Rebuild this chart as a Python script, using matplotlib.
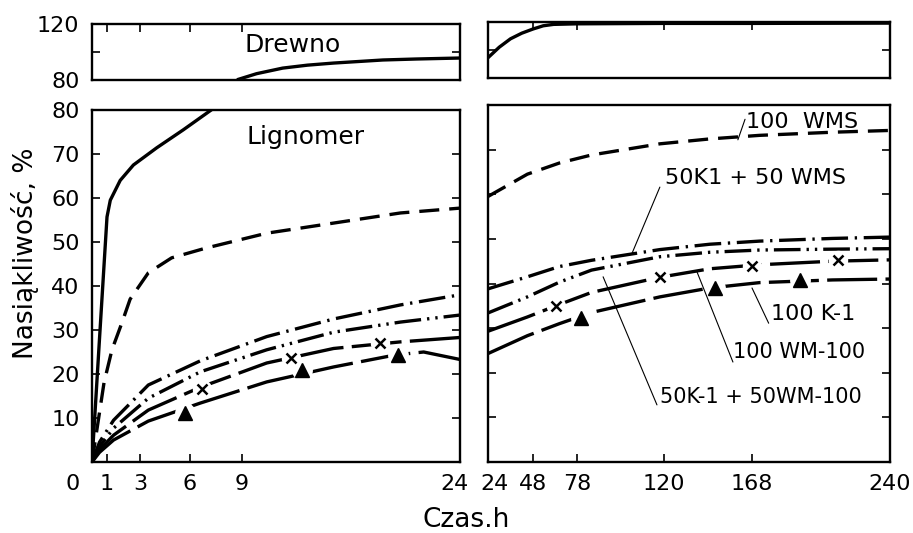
import numpy as np
import matplotlib
matplotlib.use("Agg")
import matplotlib.pyplot as plt
from matplotlib.transforms import ScaledTranslation

# ---- data (hours, water uptake %) ----
# left part: 0-24 h
t_wood_lo = [0, 0.5, 1.0, 1.2, 1.8, 2.6, 4.0, 5.6, 7.4]
wood_lo = [0, 28, 55.7, 59.5, 64, 67.5, 71.4, 75.5, 80.5]
t_wood_hi = [8.8, 10, 11.8, 13.5, 15.3, 18.7, 21, 24]
wood_hi = [80.5, 84.5, 88.5, 90.6, 92.1, 94.3, 95.0, 95.7]

t_wms = [0, 0.4, 0.8, 1.3, 1.9, 2.4, 3.5, 4.9, 6.9, 10.7, 15.3, 19.9, 24]
wms = [0, 9, 18, 25.5, 31.6, 37, 43, 46.4, 48.6, 52, 54.3, 56.6, 57.7]

t_l = [0, 0.5, 1.4, 3.5, 6.6, 10.7, 15.3, 19.9, 24]
k1_wms = [0, 4.5, 9.5, 17.5, 23, 28.5, 32.5, 35.7, 38]
k1_wm = [0, 3.5, 7.7, 14.5, 20.5, 25.5, 29.5, 31.8, 33.4]
wm100 = [0, 2.8, 6.1, 11.8, 17, 22.5, 25.8, 27.3, 28.3]
t_k1 = [0, 0.5, 1.4, 3.5, 6.6, 10.7, 15.3, 19.5, 21.5, 24]
k1 = [0, 2.2, 5, 9.3, 13.4, 18.2, 21.6, 24.3, 25, 23.3]

wm100_mk_t = [6.7, 12.4, 18.5]
wm100_mk = [16.6, 23.6, 27]
k1_mk_t = [5.7, 13.1, 19.7]
k1_mk = [11.1, 20.9, 24.3]

# right part: 24-240 h
t_wood_r = [24, 30, 36, 42, 48, 55, 62, 78, 120, 168, 240]
wood_r = [94.5, 102, 108, 112, 115, 117.3, 118.3, 118.7, 119, 119, 119.2]

t_r = [24, 45, 66, 85, 118, 145, 172, 210, 240]
wms_r = [59.5, 64.5, 67, 68.8, 71.3, 72.4, 73.2, 73.9, 74.3]
k1_wms_r = [38.8, 41.5, 43.8, 45.2, 47.6, 48.8, 49.5, 50.1, 50.4]
k1_wm_r = [33.4, 37, 40.3, 43, 46, 47, 47.5, 47.7, 47.8]
wm100_r = [29.3, 32.5, 35.3, 38, 41.4, 43.3, 44.2, 45, 45.3]
k1_r = [24.3, 28.3, 31, 33.5, 37, 39, 40.2, 40.8, 41]

wm100_mk_tr = [64, 118, 168, 213]
wm100_mkr = [35, 41.4, 44, 45.2]
k1_mk_tr = [80, 148, 193]
k1_mkr = [32.3, 39, 40.7]

left_ticks = [0, 1, 3, 6, 9, 24]
right_ticks = [24, 48, 78, 120, 168, 240]
# the hand drawn time axis is not uniform: hours -> relative position
left_pos = [0, 15, 48, 98, 150, 368]
right_pos = [0, 45, 89, 176, 264, 402]


def time_scale(hours, pos):
    return (lambda x: np.interp(x, hours, pos),
            lambda p: np.interp(p, pos, hours))


W, H = 913, 533
fig = plt.figure(figsize=(W / 100, H / 100), dpi=100)

ax_lt = fig.add_axes([92 / W, 1 - 80 / H, 368 / W, 56 / H])
ax_lm = fig.add_axes([92 / W, 1 - 462 / H, 368 / W, 352 / H])
ax_rt = fig.add_axes([488 / W, 1 - 78 / H, 402 / W, 56 / H])
ax_rm = fig.add_axes([488 / W, 1 - 462 / H, 402 / W, 357 / H])

for ax in (ax_lt, ax_lm):
    ax.set_xscale('function', functions=time_scale(left_ticks, left_pos))
    ax.set_xlim(0, 24)
for ax in (ax_rt, ax_rm):
    ax.set_xscale('function', functions=time_scale(right_ticks, right_pos))
    ax.set_xlim(24, 240)

for ax in (ax_lt, ax_lm, ax_rt, ax_rm):
    for s in ax.spines.values():
        s.set_linewidth(1.7)
    ax.tick_params(direction='in', length=6, width=1.2, labelsize=16,
                   left=True, right=True, pad=9)
    ax.minorticks_off()

lw = 2.4
dashed = (0, (6, 3))
dashdot = (0, (8, 2, 0.7, 2))
dashdotdot = (0, (8, 1.8, 0.7, 1.8, 0.7, 1.8))
longdash = (0, (15, 2.5))

# top panels (80-120 %)
for ax in (ax_lt, ax_rt):
    ax.set_ylim(80, 120)
    ax.set_yticks([80, 100, 120])
    ax.tick_params(axis='x', top=True, bottom=False, labelbottom=False)
ax_lt.set_yticklabels(['80', '', '120'])
ax_rt.set_yticklabels([])
ax_lt.set_xticks([1, 3, 6, 9])
ax_rt.set_xticks([48, 78, 120, 168])
ax_lt.plot(t_wood_hi, wood_hi, color='k', lw=lw)
ax_rt.plot(t_wood_r, wood_r, color='k', lw=lw)
ax_lt.text(9.2, 105, 'Drewno', fontsize=18, va='center', ha='left')

# main panels (0-80 %)
for ax in (ax_lm, ax_rm):
    ax.set_ylim(0, 80)
    ax.set_yticks(range(10, 81, 10))
ax_rm.set_yticklabels([])

ax_lm.set_xticks(left_ticks)
ax_lm.set_xticklabels([str(t) for t in left_ticks])
ax_rm.set_xticks(right_ticks)
ax_rm.set_xticklabels([str(t) for t in right_ticks])
labs = ax_lm.get_xticklabels()
labs[0].set_transform(labs[0].get_transform() + ScaledTranslation(-0.19, 0, fig.dpi_scale_trans))
labs[-1].set_transform(labs[-1].get_transform() + ScaledTranslation(-0.06, 0, fig.dpi_scale_trans))
labs = ax_rm.get_xticklabels()
labs[0].set_transform(labs[0].get_transform() + ScaledTranslation(0.06, 0, fig.dpi_scale_trans))

ax_lm.plot(t_wood_lo, wood_lo, color='k', lw=lw)
ax_lm.plot(t_wms, wms, color='k', lw=lw, ls=dashed)
ax_lm.plot(t_l, k1_wms, color='k', lw=lw, ls=dashdot)
ax_lm.plot(t_l, k1_wm, color='k', lw=lw, ls=dashdotdot)
ax_lm.plot(t_l, wm100, color='k', lw=lw, ls=longdash)
ax_lm.plot(t_k1, k1, color='k', lw=lw, ls=longdash)

ax_rm.plot(t_r, wms_r, color='k', lw=lw, ls=dashed)
ax_rm.plot(t_r, k1_wms_r, color='k', lw=lw, ls=dashdot)
ax_rm.plot(t_r, k1_wm_r, color='k', lw=lw, ls=dashdotdot)
ax_rm.plot(t_r, wm100_r, color='k', lw=lw, ls=longdash)
ax_rm.plot(t_r, k1_r, color='k', lw=lw, ls=longdash)

for ax, tx, vx, tt, vt in ((ax_lm, wm100_mk_t, wm100_mk, k1_mk_t, k1_mk),
                           (ax_rm, wm100_mk_tr, wm100_mkr, k1_mk_tr, k1_mkr)):
    ax.plot(tx, vx, 'o', ms=14, mfc='white', mec='none', zorder=3)
    ax.plot(tt, vt, 'o', ms=15, mfc='white', mec='none', zorder=3)
    ax.plot(tx, vx, 'x', ms=7, mew=1.8, color='k', zorder=4)
    ax.plot(tt, vt, '^', ms=10, color='k', zorder=4)

ax_lm.text(9.3, 73.9, 'Lignomer', fontsize=18, va='center', ha='left')

labels = [
    ('100  WMS', (164.5, 76.1), (160.3, 72.2), (164.2, 76.8), 16),
    ('50K1 + 50 WMS', (120.5, 63.6), (118, 61.6), (104.6, 46.8), 16),
    ('100 K-1', (178, 33.2), (176.7, 31.1), (168, 39), 16),
    ('100 WM-100', (157.6, 24.6), (157.6, 22.4), (138, 42.6), 15),
    ('50K-1 + 50WM-100', (118, 14.6), (116.6, 12.8), (90.6, 41.5), 15),
]
for txt, tpos, a, b, fs in labels:
    ax_rm.text(tpos[0], tpos[1], txt, fontsize=fs, va='center', ha='left')
    ax_rm.annotate('', xy=b, xytext=a,
                   arrowprops=dict(arrowstyle='-', lw=0.8, color='k',
                                   shrinkA=0, shrinkB=0))

fig.text(25 / W, 1 - 253 / H, 'Nasiąkliwość, %', rotation=90,
         fontsize=19, ha='center', va='center')
fig.text(466 / W, 1 - 520 / H, 'Czas.h', fontsize=19, ha='center',
         va='center')

fig.savefig('out.png', dpi=100)
